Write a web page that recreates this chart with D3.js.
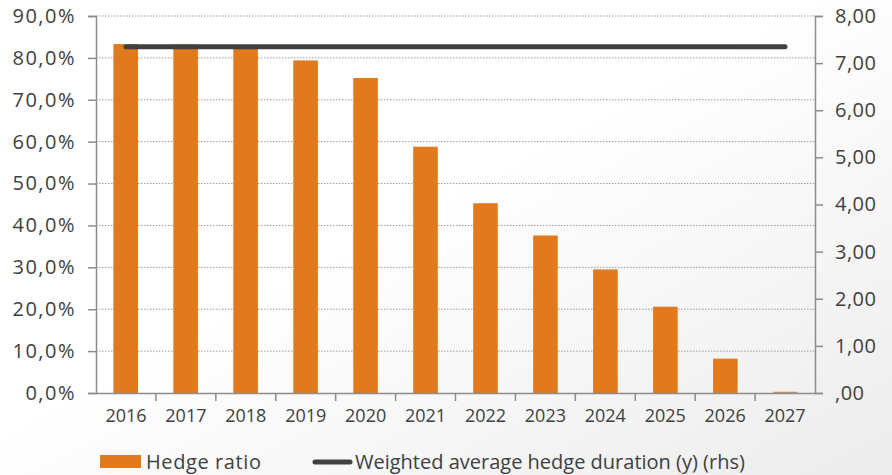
<!DOCTYPE html>
<html>
<head>
<meta charset="utf-8">
<script src="https://cdn.jsdelivr.net/npm/d3@7"></script>
<style>
  body { margin: 0; }
  svg text { font-family: "Open Sans", Lato, sans-serif; fill: #404040; }
</style>
</head>
<body>
<svg id="chart" width="892" height="475"></svg>
<script>
const years = ["2016", "2017", "2018", "2019", "2020", "2021", "2022", "2023", "2024", "2025", "2026", "2027"];
const hedgeRatio = [83.3, 83.2, 83.1, 79.4, 75.2, 58.8, 45.3, 37.6, 29.5, 20.6, 8.2, 0.3];
const hedgeDuration = [7.35, 7.35, 7.35, 7.35, 7.35, 7.35, 7.35, 7.35, 7.35, 7.35, 7.35, 7.35];
const leftTicks = [0, 10, 20, 30, 40, 50, 60, 70, 80, 90];
const rightTicks = [0, 1, 2, 3, 4, 5, 6, 7, 8];

const margin = {top: 16, right: 77, bottom: 82, left: 96};
const svg = d3.select("#chart");
const width = +svg.attr("width") - margin.left - margin.right;
const height = +svg.attr("height") - margin.top - margin.bottom;

// light background shading toward bottom right
const defs = svg.append("defs");
const grad = defs.append("linearGradient").attr("id", "bg")
    .attr("x1", "0%").attr("y1", "0%").attr("x2", "100%").attr("y2", "100%");
grad.append("stop").attr("offset", "45%").attr("stop-color", "#ffffff");
grad.append("stop").attr("offset", "100%").attr("stop-color", "#ececec");
svg.append("rect").attr("width", 892).attr("height", 475).attr("fill", "url(#bg)");

const g = svg.append("g").attr("transform", "translate(" + margin.left + "," + margin.top + ")");

const x = d3.scaleBand().domain(years).range([0, width]).paddingInner(0.59).paddingOuter(0.29);
const xTicks = d3.scaleBand().domain(years).range([0, width]);
const y = d3.scaleLinear().domain([0, 90]).range([height, 0]);
const y2 = d3.scaleLinear().domain([0, 8]).range([height, 0]);

// gridlines
g.append("g")
    .selectAll("line")
    .data(leftTicks.filter(d => d > 0))
    .enter().append("line")
    .attr("x1", 0).attr("x2", width)
    .attr("y1", d => y(d)).attr("y2", d => y(d))
    .attr("stroke", "#9a9a9a")
    .attr("stroke-width", 1)
    .attr("stroke-dasharray", "1.5,1.5");

// bars
g.append("g")
    .selectAll("rect")
    .data(hedgeRatio)
    .enter().append("rect")
    .attr("x", (d, i) => x(years[i]))
    .attr("y", d => y(d))
    .attr("width", x.bandwidth())
    .attr("height", d => height - y(d))
    .attr("fill", (d, i) => i === years.length - 1 ? "#c8956a" : "#e07a1d");

// left axis
const leftAxis = g.append("g")
    .call(d3.axisLeft(y).tickValues(leftTicks).tickSize(8).tickPadding(12)
        .tickFormat(d => d.toFixed(1).replace(".", ",") + "%"));
leftAxis.select(".domain").attr("stroke", "#8c8c8c").attr("stroke-width", 1.5);
leftAxis.selectAll(".tick line").attr("stroke", "#8c8c8c").attr("stroke-width", 1.5);
leftAxis.selectAll("text").style("font-size", "20px").style("letter-spacing", "1.5px").attr("fill", "#404040");

// right axis
const rightAxis = g.append("g")
    .attr("transform", "translate(" + width + ",0)")
    .call(d3.axisRight(y2).tickValues(rightTicks).tickSize(8).tickPadding(12)
        .tickFormat(d => d === 0 ? ",00" : d.toFixed(2).replace(".", ",")));
rightAxis.select(".domain").attr("stroke", "#8c8c8c").attr("stroke-width", 1.5);
rightAxis.selectAll(".tick line").attr("stroke", "#8c8c8c").attr("stroke-width", 1.5);
rightAxis.selectAll("text").style("font-size", "20px").style("letter-spacing", "0.5px").attr("fill", "#404040");

// bottom axis, ticks at band edges
const bottomAxis = g.append("g")
    .attr("transform", "translate(0," + height + ")")
    .call(d3.axisBottom(xTicks).tickSize(0).tickPadding(16));
bottomAxis.select(".domain").attr("stroke", "#8c8c8c").attr("stroke-width", 1.5);
bottomAxis.selectAll("text").style("font-size", "18px").attr("fill", "#404040");
g.append("g")
    .selectAll("line")
    .data(years.slice(1))
    .enter().append("line")
    .attr("x1", d => xTicks(d)).attr("x2", d => xTicks(d))
    .attr("y1", height).attr("y2", height + 8)
    .attr("stroke", "#8c8c8c").attr("stroke-width", 1.5);

// duration line
const line = d3.line()
    .x((d, i) => xTicks(years[i]) + xTicks.bandwidth() / 2)
    .y(d => y2(d));
g.append("path")
    .datum(hedgeDuration)
    .attr("fill", "none")
    .attr("stroke", "#404040")
    .attr("stroke-width", 5)
    .attr("stroke-linecap", "round")
    .attr("d", line);

// legend
const legend = svg.append("g");
legend.append("rect").attr("x", 100).attr("y", 455).attr("width", 41).attr("height", 13).attr("fill", "#e07a1d");
legend.append("text").attr("x", 146).attr("y", 469).style("font-size", "20px")
    .style("letter-spacing", "0.6px").text("Hedge ratio");
legend.append("line").attr("x1", 315).attr("x2", 350).attr("y1", 462).attr("y2", 462)
    .attr("stroke", "#404040").attr("stroke-width", 5).attr("stroke-linecap", "round");
legend.append("text").attr("x", 355).attr("y", 469).style("font-size", "20px")
    .text("Weighted average hedge duration (y) (rhs)");
</script>
</body>
</html>
